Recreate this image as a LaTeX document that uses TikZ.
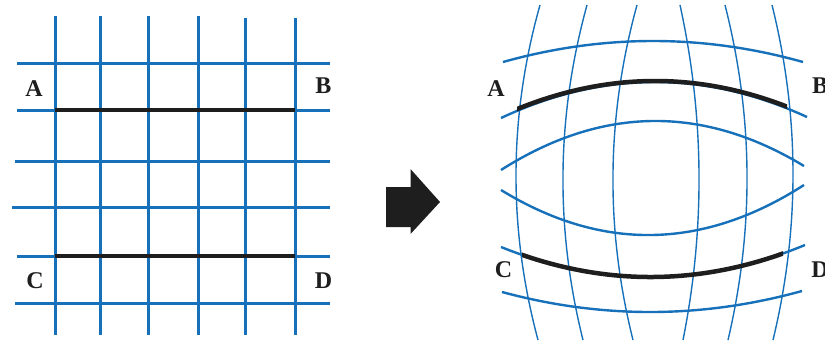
\documentclass[tikz,border=0pt]{standalone}
\usepackage{fontspec}
\setmainfont{Liberation Serif}
\usetikzlibrary{calc}
\definecolor{gridblue}{RGB}{22,112,186}
\definecolor{darkline}{RGB}{30,30,30}
\tikzset{
  gline/.style={gridblue, line width=3pt},
  bline/.style={darkline, line width=4.5pt},
  thinv/.style={gridblue, line width=1.4pt},
  thickh/.style={gridblue, line width=2.4pt},
  lbl/.style={inner sep=0pt, font=\fontsize{24}{24}\selectfont\bfseries, text=darkline},
}
% quadratic Bezier: start, control, end
\newcommand{\qbz}[4][]{\draw[#1] (#2) .. controls ($(#2)!0.6667!(#3)$) and ($(#4)!0.6667!(#3)$) .. (#4);}
\begin{document}
\begin{tikzpicture}[x=1pt,y=-1pt]
\useasboundingbox (0,0) rectangle (825,341);
\clip (0,0) rectangle (825,341);
% ---------- left grid ----------
\foreach \x/\t in {55/16,100/16,148/16,198/16,245/18,295/18}
  \draw[gline] (\x,\t) -- (\x,335);
\foreach \y/\s in {63/17,110/17,161/15,207/12,256/17,303/15}
  \draw[gline] (\s,\y) -- (330,\y);
\draw[bline] (55,110) -- (295,110);
\draw[bline] (55,256) -- (295,256);
\node[lbl] (la) at (34,88.5) {A};
\node[lbl] (lb) at (323.5,85.5) {B};
\node[lbl] (lc) at (35,280.5) {C};
\node[lbl] (ld) at (323.5,280.5) {D};
% ---------- arrow ----------
\fill[darkline] (386,187) -- (410.5,187) -- (410.5,169) -- (440,202)
  -- (410.5,234) -- (410.5,227) -- (386,227) -- cycle;
% ---------- right distorted grid ----------
\qbz[thinv]{540,5}{493,172}{538,340}
\qbz[thinv]{587,5}{541,172}{583,340}
\qbz[thinv]{637,5}{591,172}{633,340}
\qbz[thinv]{680,5}{716.5,172}{683,340}
\qbz[thinv]{725,5}{767.5,172}{728,340}
\qbz[thinv]{772,5}{813.5,172}{773,340}
\qbz[thickh]{503,62}{653,20}{803,62}
\qbz[thickh]{501,118}{654,46.5}{807,117}
\qbz[thickh]{501,170}{652,74}{804,166}
\qbz[thickh]{501,190}{652,282.5}{804,185}
\qbz[thickh]{501,247}{653,308}{805,245}
\qbz[thickh]{502,292}{652,332.5}{802,291}
\begin{scope}
  \clip (517,0) rectangle (787,341);
  \qbz[bline]{501,116}{654,46.5}{807,115}
\end{scope}
\begin{scope}
  \clip (522,0) rectangle (783,341);
  \qbz[bline]{501,247}{653,308}{805,245}
\end{scope}
\node[lbl] (ra) at (496,88.5) {A};
\node[lbl] (rb) at (820,86) {B};
\node[lbl] (rc) at (503.5,270) {C};
\node[lbl] (rd) at (820,270) {D};
\end{tikzpicture}
\end{document}
